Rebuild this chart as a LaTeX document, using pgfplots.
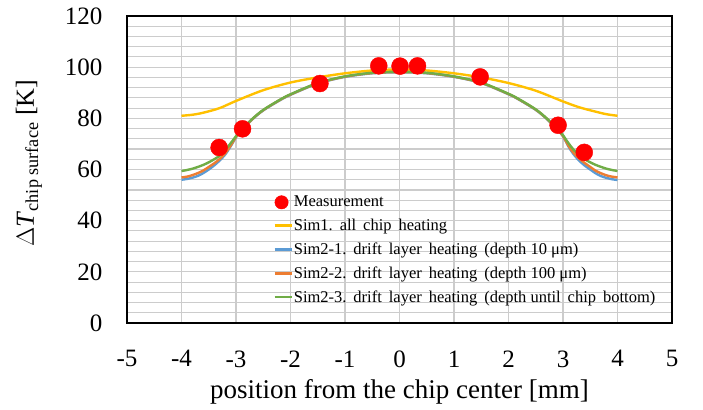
\documentclass[border=0pt]{standalone}
\usepackage{fontspec}
\setmainfont{Liberation Serif}
\usepackage{pgfplots}
\pgfplotsset{compat=1.18}
\definecolor{cYel}{HTML}{FFC000}
\definecolor{cBlu}{HTML}{5B9BD5}
\definecolor{cOra}{HTML}{ED7D31}
\definecolor{cGre}{HTML}{70AD47}
\definecolor{cGrid}{HTML}{CCCCCC}
\newcommand\wsp{\hspace{0.42em}}
\begin{document}
\begin{tikzpicture}
\begin{axis}[
  name=ax,
  scale only axis, width=545pt, height=307pt,
  xmin=-5, xmax=5, ymin=0, ymax=120,
  xtick={-5,...,5}, ytick={0,20,...,120},
  minor y tick num=4,
  major tick length=0pt, minor tick length=0pt,
  grid=both,
  major grid style={cGrid, line width=1.3pt},
  minor grid style={cGrid, line width=1.1pt},
  axis line style={black, line width=1.6pt},
  /pgf/number format/assume math mode=true,
  tick label style={font=\fontsize{25}{30}\selectfont},
  xticklabel style={yshift=-24pt},
  yticklabel style={xshift=-21pt},
  xlabel={position from the chip center [mm]},
  xlabel style={font=\fontsize{27}{30}\selectfont, at={(axis description cs:0.5,0)}, anchor=base, yshift=-75pt},
  ylabel={$\Delta$\textit{T}\textsubscript{chip surface} [K]},
  ylabel style={font=\fontsize{26}{30}\selectfont, at={(axis description cs:-0.171,0.521)}, anchor=base},
  legend style={draw=none, fill=none, at={(0.268,0.417)}, anchor=north west,
    font=\fontsize{16.5}{20}\selectfont, row sep=8.7pt, inner sep=0pt,
    nodes={inner xsep=1pt, inner ysep=1pt}},
  legend cell align=left,
  legend image code/.code={\draw[#1, line width=2.6pt] (0pt,0pt) -- (17pt,0pt);},
]
\addplot[only marks, mark=*, mark size=8.5pt, color=red,
  legend image code/.code={\fill[red] (7pt,0pt) circle (6.7pt);}]
  coordinates {(-3.31,68.6) (-2.88,75.9) (-1.46,93.6) (-0.38,100.5) (0.01,100.4) (0.33,100.5) (1.48,96.2) (2.91,77.3) (3.39,66.7)};
\addlegendentry{Measurement}
\addplot[cYel, line width=2.4pt, smooth, tension=0.5] coordinates {
(-4.0,81.0) (-3.8,81.4) (-3.6,82.2) (-3.3,84.0) (-3.0,86.8) (-2.5,91.0) (-2.0,94.0) (-1.5,96.0) (-1.0,97.6) (-0.5,98.7) (0,99.1)
(0.5,98.7) (1.0,97.6) (1.5,96.0) (2.0,93.8) (2.5,90.8) (3.0,86.6) (3.3,84.3) (3.6,82.6) (3.8,81.6) (4.0,81.0)};
\addlegendentry{Sim1.\wsp all\wsp chip\wsp heating}
\addplot[cBlu, line width=2.4pt, smooth, tension=0.5] coordinates {
(-4.0,56.0) (-3.9,56.3) (-3.8,56.8) (-3.7,57.5) (-3.6,58.6) (-3.5,60.0) (-3.4,61.6) (-3.3,63.5) (-3.2,65.8) (-3.1,69.0) (-3.0,72.6) (-2.9,75.3) (-2.7,79.6) (-2.5,83.1) (-2.2,87.0) (-2.0,89.2) (-1.5,93.6) (-1.0,96.2) (-0.5,97.6) (0,98.0)
(0.5,97.6) (1.0,96.2) (1.5,93.8) (2.0,89.4) (2.2,87.2) (2.5,83.3) (2.7,79.8) (2.9,75.5) (3.0,73.0) (3.1,69.0) (3.2,65.8) (3.3,63.4) (3.4,61.5) (3.5,60.0) (3.6,58.5) (3.7,57.4) (3.8,56.7) (3.9,56.2) (4.0,55.9)};
\addlegendentry{Sim2-1.\wsp drift\wsp layer\wsp heating\wsp (depth 10 μm)}
\addplot[cOra, line width=2.4pt, smooth, tension=0.5] coordinates {
(-4.0,56.9) (-3.9,57.2) (-3.8,57.8) (-3.7,58.6) (-3.6,59.6) (-3.5,61.0) (-3.4,62.4) (-3.3,64.1) (-3.2,66.3) (-3.1,69.3) (-3.0,72.7) (-2.9,75.4) (-2.7,79.7) (-2.5,83.2) (-2.2,87.1) (-2.0,89.3) (-1.5,93.7) (-1.0,96.3) (-0.5,97.7) (0,98.1)
(0.5,97.7) (1.0,96.3) (1.5,93.9) (2.0,89.5) (2.2,87.3) (2.5,83.4) (2.7,79.9) (2.9,75.6) (3.0,73.1) (3.1,69.3) (3.2,66.3) (3.3,64.2) (3.4,62.5) (3.5,61.0) (3.6,59.5) (3.7,58.5) (3.8,57.7) (3.9,57.2) (4.0,56.9)};
\addlegendentry{Sim2-2.\wsp drift\wsp layer\wsp heating\wsp (depth 100 μm)}
\addplot[cGre, line width=2.4pt, smooth, tension=0.5] coordinates {
(-4.0,59.4) (-3.9,59.8) (-3.8,60.3) (-3.7,61.0) (-3.6,61.8) (-3.5,62.8) (-3.4,64.0) (-3.3,65.4) (-3.2,67.5) (-3.1,70.2) (-3.0,73.0) (-2.9,75.6) (-2.7,79.8) (-2.5,83.3) (-2.2,87.2) (-2.0,89.4) (-1.5,93.8) (-1.0,96.4) (-0.5,97.8) (0,98.2)
(0.5,97.8) (1.0,96.4) (1.5,94.0) (2.0,89.6) (2.2,87.4) (2.5,83.5) (2.7,80.0) (2.9,75.8) (3.0,73.4) (3.1,70.3) (3.2,67.6) (3.3,65.5) (3.4,64.0) (3.5,62.8) (3.6,61.8) (3.7,61.0) (3.8,60.3) (3.9,59.8) (4.0,59.4)};
\addlegendentry{Sim2-3.\wsp drift\wsp layer\wsp heating\wsp (depth until\wsp chip\wsp bottom)}
\end{axis}
\pgfresetboundingbox
\path ([xshift=-127pt,yshift=-86pt]ax.south west) rectangle ([xshift=31pt,yshift=16pt]ax.north east);
\end{tikzpicture}
\end{document}
